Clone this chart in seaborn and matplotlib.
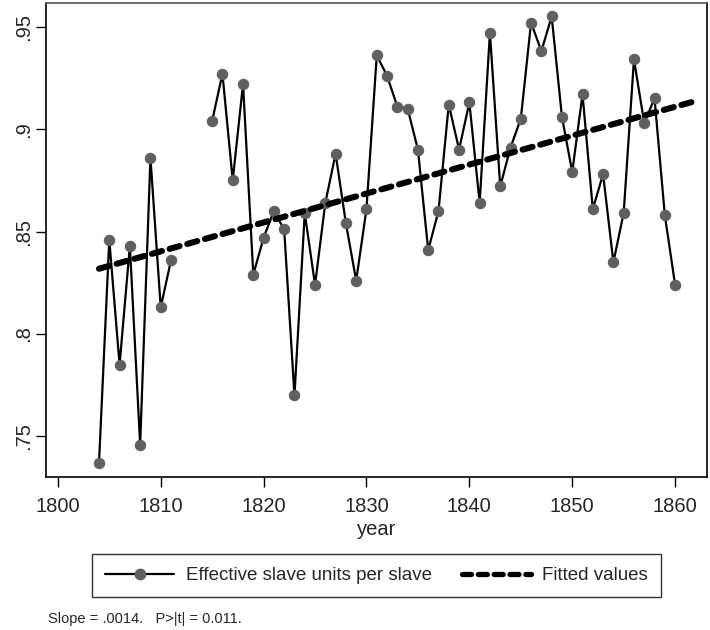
import numpy as np
import pandas as pd
import seaborn as sns
import matplotlib.pyplot as plt
from matplotlib.lines import Line2D

# data (1812-1814 missing)
years = [1804, 1805, 1806, 1807, 1808, 1809, 1810, 1811,
         1815, 1816, 1817, 1818, 1819, 1820, 1821, 1822, 1823, 1824, 1825,
         1826, 1827, 1828, 1829, 1830, 1831, 1832, 1833, 1834, 1835, 1836,
         1837, 1838, 1839, 1840, 1841, 1842, 1843, 1844, 1845, 1846, 1847,
         1848, 1849, 1850, 1851, 1852, 1853, 1854, 1855, 1856, 1857, 1858,
         1859, 1860]
esu = [0.737, 0.846, 0.785, 0.843, 0.746, 0.886, 0.813, 0.836,
       0.904, 0.927, 0.875, 0.922, 0.829, 0.847, 0.860, 0.851, 0.770, 0.859, 0.824,
       0.864, 0.888, 0.854, 0.826, 0.861, 0.936, 0.926, 0.911, 0.910, 0.890, 0.841,
       0.860, 0.912, 0.890, 0.913, 0.864, 0.947, 0.872, 0.891, 0.905, 0.952, 0.938,
       0.955, 0.906, 0.879, 0.917, 0.861, 0.878, 0.835, 0.859, 0.934, 0.903, 0.915,
       0.858, 0.824]
yticks = [0.75, 0.80, 0.85, 0.90, 0.95]
ytick_labels = ['.75', '.8', '.85', '.9', '.95']
xticks = [1800, 1810, 1820, 1830, 1840, 1850, 1860]

df = pd.DataFrame({'year': years, 'esu': esu})
df['seg'] = np.where(df['year'] < 1812, 0, 1)   # break the line at the gap

# fitted values (OLS)
slope, icpt = np.polyfit(df['year'], df['esu'], 1)
fit = pd.DataFrame({'year': [1804, 1862]})
fit['fitted'] = icpt + slope * fit['year']

sns.set_style('white')
plt.rcParams['font.family'] = ['Liberation Sans', 'DejaVu Sans']

DASH = (0, (1.7, 1.3))

fig = plt.figure(figsize=(7.1, 6.3), dpi=100)
ax = fig.add_axes([45.5 / 710, 1 - 477 / 630, (707 - 45.5) / 710, (477 - 3.3) / 630])

sns.lineplot(data=df, x='year', y='esu', units='seg', estimator=None, ax=ax,
             color='black', linewidth=1.6, marker='o', markersize=7.5,
             markerfacecolor='#606060', markeredgecolor='#606060')
sns.lineplot(data=fit, x='year', y='fitted', ax=ax, color='black',
             linewidth=4.4, dashes=False)
fit_line = ax.get_lines()[-1]
fit_line.set_linestyle(DASH)
fit_line.set_dash_capstyle('round')

ax.set_xlim(1798.8, 1863.1)
ax.set_ylim(0.7302, 0.9614)
ax.set_xticks(xticks)
ax.set_yticks(yticks)
ax.set_yticklabels(ytick_labels, rotation=90, va='center')
ax.tick_params(axis='both', direction='out', length=7.5, width=1, color='black',
               labelsize=14.5, bottom=True, left=True)
ax.tick_params(axis='x', pad=7)
ax.tick_params(axis='y', pad=1.5)
for sp in ax.spines.values():
    sp.set_color('black')
    sp.set_linewidth(1.2)
ax.spines['top'].set_color('#555555')
ax.set_xlabel('year', fontsize=14.5, labelpad=3)
ax.set_ylabel('')

handles = [Line2D([], [], color='black', linewidth=1.6, marker='o', markersize=7.5,
                  markerfacecolor='#606060', markeredgecolor='#606060'),
           Line2D([], [], color='black', linewidth=3.8, linestyle=DASH,
                  dash_capstyle='round')]
leg = fig.legend(handles, ['Effective slave units per slave', 'Fitted values'],
                 loc='upper center', bbox_to_anchor=(376.5 / 710, 1 - 554 / 630),
                 ncol=2, fontsize=13.5, frameon=True, fancybox=False, shadow=False,
                 handlelength=3.7, columnspacing=1.6, borderpad=0.7,
                 handletextpad=0.6, borderaxespad=0)
leg.get_frame().set_edgecolor('black')
leg.get_frame().set_linewidth(1)

fig.text(48 / 710, 1 - 619 / 630, 'Slope = .0014.   P>|t| = 0.011.',
         fontsize=10.5, va='center', ha='left')

fig.savefig('out.png', dpi=100)
